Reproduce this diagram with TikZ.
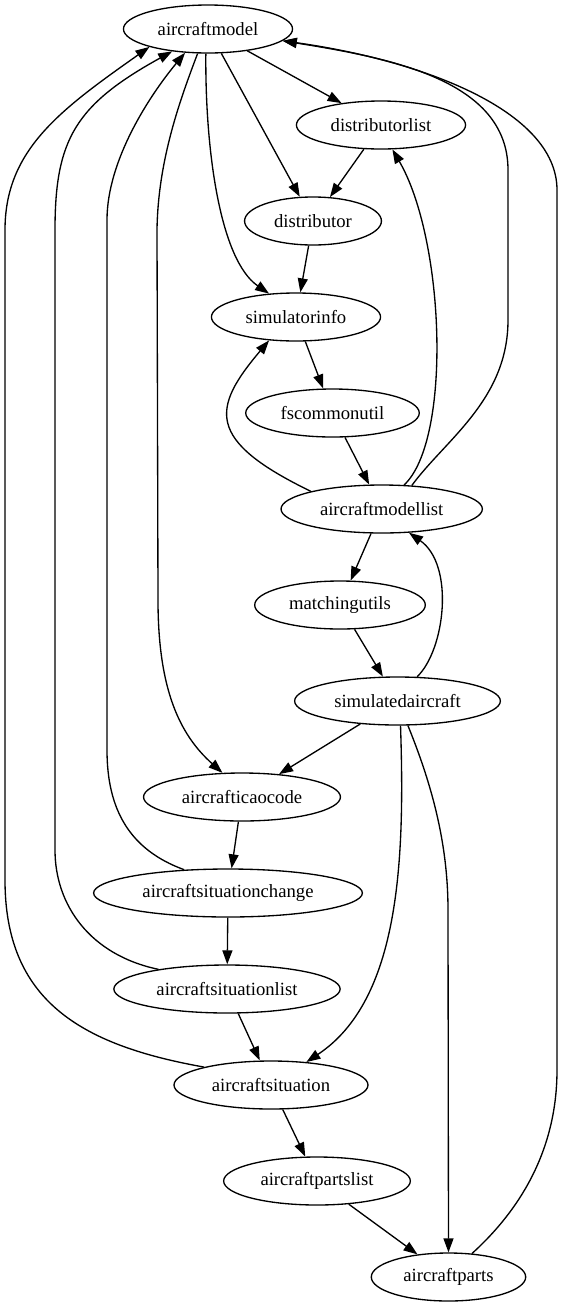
\documentclass[tikz,border=0pt]{standalone}
\usepackage{fontspec}
\setmainfont{Liberation Serif}
\usetikzlibrary{shapes.geometric,arrows.meta}
\begin{document}
\begin{tikzpicture}[x=1pt,y=-1pt,
  nd/.style={ellipse,draw,line width=1.33pt,inner xsep=9.5pt,inner ysep=0pt,minimum height=48pt,minimum width=0pt,font=\fontsize{18.67}{22}\selectfont},
  ed/.style={line width=1.33pt,-{Triangle[length=14pt,width=10pt]}}]
\useasboundingbox (0,0) rectangle (563,1307);
\node[nd] (am)  at (208,29)    {aircraftmodel};
\node[nd] (dl)  at (381,125)   {distributorlist};
\node[nd] (dis) at (313,221)   {distributor};
\node[nd] (si)  at (296,317)   {simulatorinfo};
\node[nd] (fs)  at (332.5,413) {fscommonutil};
\node[nd] (aml) at (381.7,509) {aircraftmodellist};
\node[nd] (mu)  at (340,605)   {matchingutils};
\node[nd] (sa)  at (397.5,701) {simulatedaircraft};
\node[nd] (ai)  at (242,797)   {aircrafticaocode};
\node[nd] (asc) at (228,893)   {aircraftsituationchange};
\node[nd] (asl) at (227,989)   {aircraftsituationlist};
\node[nd] (as)  at (271,1085)  {aircraftsituation};
\node[nd] (apl) at (317,1181)  {aircraftpartslist};
\node[nd] (ap)  at (448.5,1277) {aircraftparts};

\draw[ed] (am) -- (dl);
\draw[ed] (am) -- (dis);
\draw[ed] (am.265) .. controls (205,150) and (220,260) .. (si.139.8);
\draw[ed] (am.247) .. controls (180,100) and (158,160) .. (157,230) -- (158,600) .. controls (158,690) and (180,735) .. (ai.129.8);
\draw[ed] (dl) -- (dis);
\draw[ed] (dis) -- (si);
\draw[ed] (si) -- (fs);
\draw[ed] (fs) -- (aml);
\draw[ed] (aml.166.8) .. controls (205,440) and (212,408) .. (si.221.8);
\draw[ed] (aml.47.2) .. controls (452,440) and (445,240) .. (dl.295.6);
\draw[ed] (aml.38.4) .. controls (445,440) and (508,400) .. (508,320) -- (508,170) .. controls (508,80) and (390,58) .. (am.351);
\draw[ed] (ap.45.4) .. controls (520,1210) and (557,1150) .. (557,1070) -- (557,190) .. controls (557,110) and (420,60) .. (am.351);
\draw[ed] (aml) -- (mu);
\draw[ed] (mu) -- (sa);
\draw[ed] (sa.51.5) .. controls (445,650) and (455,565) .. (aml.319.5);
\draw[ed] (sa) -- (ai);
\draw[ed] (sa.277.6) .. controls (405,860) and (400,1000) .. (as.33.3);
\draw[ed] (sa.293.6) .. controls (430,780) and (448,840) .. (448,910) -- (ap.north);
\draw[ed] (ai) -- (asc);
\draw[ed] (asc.152.9) .. controls (130,850) and (107,810) .. (107,750) -- (107,220) .. controls (107,160) and (150,95) .. (am.226);
\draw[ed] (asc) -- (asl);
\draw[ed] (asl.164) .. controls (90,955) and (55,905) .. (55,850) -- (55,230) .. controls (55,140) and (75,105) .. (am.212);
\draw[ed] (asl) -- (as);
\draw[ed] (as.165.6) .. controls (80,1045) and (5,1000) .. (5,880) -- (5,230) .. controls (5,150) and (60,110) .. (am.197);
\draw[ed] (as) -- (apl);
\draw[ed] (apl) -- (ap);
\end{tikzpicture}
\end{document}
